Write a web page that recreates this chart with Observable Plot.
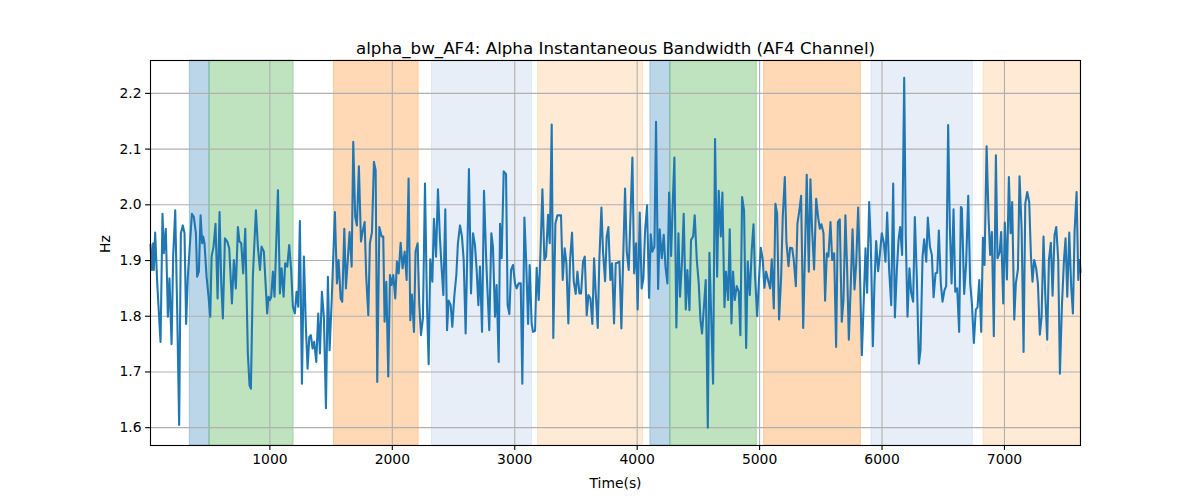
<!DOCTYPE html>
<html>
<head>
<meta charset="utf-8">
<script src="https://cdn.jsdelivr.net/npm/d3@7"></script>
<script src="https://cdn.jsdelivr.net/npm/@observablehq/plot@0.6"></script>
<style>
  html, body { margin: 0; padding: 0; background: #fff; }
  svg { font-family: "DejaVu Sans", sans-serif; }
</style>
</head>
<body>
<div id="chart"></div>
<script>
const times = [25,36,47,52,63,80,107,123,134,150,167,180,197,210,227,243,259,273,289,303,316,330,363,379,396,406,420,434,447,455,466,483,499,513,524,540,556,573,589,603,616,633,652,668,690,706,722,739,752,766,782,799,820,834,845,861,886,902,919,932,951,
978,989,1000,1011,1025,1038,1052,1066,1082,1096,1112,1125,1142,1158,1174,1188,1204,1218,1232,1245,1262,1278,1294,1308,1322,1335,1349,1362,1379,1395,1409,1425,1441,1458,1474,1488,1504,1531,1548,1561,1578,1591,1608,1621,1638,1651,1668,1681,1697,1711,1727,1744,1757,1774,1787,1804,1817,1834,1850,1864,1877,1894,
1913,1926,1937,1951,1967,1981,1994,2008,2024,2038,2052,2068,2084,2101,2117,2133,2147,2160,2177,2190,2207,2220,2234,2250,2267,2283,2297,2310,2327,2340,2357,2373,2389,2403,2417,2433,2447,2460,2477,2490,2506,2523,2536,2553,2569,2583,2599,2613,2626,2643,2659,2675,2689,2703,2716,2733,2749,2765,2776,2792,2809,2822,2839,2852,
2869,2880,2893,2910,2929,2942,2956,2970,2986,3002,3016,3032,3049,3062,3079,3092,3109,3122,3138,3149,3166,3179,3196,3209,3226,3242,3256,3272,3286,3302,3315,3332,3348,3362,3378,3392,3408,3422,3438,3452,3468,3482,3498,3512,3528,3542,3558,3572,3588,3602,3618,3634,3648,3661,3678,3691,3708,3721,3738,3751,3765,3781,3795,
3811,3825,3838,3855,3871,3885,3901,3915,3931,3947,3961,3975,3991,4004,4021,4037,4051,4064,4081,4097,4111,4124,4141,4154,4171,4184,4201,4217,4231,4247,4261,4277,4290,4304,4320,4337,4350,4367,4380,4397,4410,4427,4440,4457,4470,4487,4503,4517,4530,4547,4560,4577,4590,4604,4620,4636,4653,4666,4683,4696,4713,4726,4743,
4756,4770,4783,4797,4813,4830,4843,4857,4873,4890,4903,4920,4936,4950,4963,4980,4996,5010,5026,5039,5053,5069,5086,5099,5116,5129,5143,5159,5176,5189,5206,5219,5236,5249,5266,5279,5296,5309,5326,5339,5356,5372,5385,5402,5415,5429,5445,5462,5478,5492,5505,5522,5535,5549,5562,5579,5593,5609,5625,5639,5655,5671,5685,5701,
5715,5729,5745,5759,5775,5789,5805,5818,5835,5848,5865,5878,5895,5908,5925,5938,5952,5968,5982,5998,6015,6028,6042,6058,6075,6091,6105,6121,6135,6148,6164,6181,6194,6208,6224,6238,6254,6268,6284,6301,6314,6331,6344,6361,6374,6391,6407,6421,6437,6451,6464,6480,6494,6510,6524,6540,6554,6568,6584,6598,6614,6630,6644,
6652,6671,6687,6704,6720,6734,6750,6766,6780,6794,6810,6824,6837,6854,6870,6883,6897,6913,6930,6943,6960,6973,6990,7003,7020,7036,7050,7063,7080,7093,7110,7123,7140,7156,7170,7186,7202,7216,7229,7243,7259,7273,7289,7303,7319,7333,7349,7363,7379,7393,7409,7423,7439,7453,7469,7486,7499,7513,7529,7545,7559,7573,7589,7603,7614,7621];

const values = [1.928,1.883,1.931,1.883,1.950,1.859,1.754,1.984,1.913,1.957,1.799,1.868,1.750,1.907,1.990,1.811,1.605,1.949,1.963,1.949,1.786,1.871,1.984,1.978,1.949,1.871,1.880,1.981,1.931,1.943,1.931,1.871,1.835,1.799,1.907,1.925,1.966,1.832,1.987,1.859,1.796,1.940,1.934,1.922,1.823,1.901,1.850,1.960,1.934,1.931,1.877,1.957,1.733,1.676,1.670,1.871,1.990,1.925,1.883,1.925,1.916,
1.805,1.835,1.829,1.835,1.880,1.835,1.931,2.026,1.841,1.886,1.835,1.895,1.889,1.928,1.883,1.817,1.805,1.844,1.817,1.971,1.679,1.907,1.781,1.706,1.763,1.766,1.742,1.754,1.718,1.805,1.733,1.844,1.799,1.635,1.871,1.739,1.823,1.987,1.859,1.901,1.832,1.826,1.957,1.850,1.907,1.951,1.889,2.113,1.978,1.963,2.069,1.934,1.951,1.969,1.871,1.802,1.931,1.951,2.077,2.062,1.682,1.960,
1.943,1.943,1.790,1.862,1.692,1.874,1.856,1.874,1.832,1.898,1.877,1.932,1.886,1.916,1.865,2.047,1.793,1.839,1.772,1.916,1.931,1.823,1.766,1.796,2.038,1.823,1.714,1.902,1.862,1.975,1.907,2.028,1.940,1.886,1.838,1.992,1.775,1.828,1.820,1.781,1.835,1.874,1.931,1.963,1.943,1.901,1.769,1.919,2.064,1.841,1.949,1.928,1.883,1.820,1.889,1.772,2.025,1.913,1.853,1.775,1.949,1.925,1.799,1.856,
1.718,1.966,1.904,2.060,2.055,1.820,1.804,1.883,1.892,1.859,1.850,1.859,1.859,1.679,1.977,1.907,1.786,1.892,1.787,1.772,1.774,1.887,1.829,1.907,2.028,1.901,1.907,1.982,1.931,2.144,1.761,1.966,1.981,1.981,1.981,1.865,1.922,1.895,1.787,1.901,1.950,1.862,1.840,1.880,1.841,1.841,1.898,1.907,1.802,1.838,1.832,1.786,1.904,1.844,1.779,1.901,1.995,1.916,1.863,1.943,1.960,1.865,1.895,
1.787,1.895,1.896,1.898,1.778,1.898,2.029,1.916,1.883,1.990,2.085,1.877,1.931,1.812,1.986,1.850,1.868,1.951,1.999,1.833,1.947,1.916,1.925,2.149,1.849,1.956,1.904,1.946,1.889,1.859,2.022,1.908,1.999,2.085,1.780,1.949,1.835,1.901,1.984,1.812,1.883,1.811,1.937,1.943,1.981,1.901,1.859,1.793,1.769,1.823,1.865,1.600,1.914,1.805,1.679,2.118,1.871,2.025,1.943,2.022,1.816,1.880,1.829,
1.956,1.787,1.880,1.829,1.854,1.844,1.766,2.014,1.990,1.743,1.898,1.838,1.919,1.965,1.871,1.800,1.871,1.923,1.901,1.851,1.880,1.865,1.850,1.902,1.814,2.002,1.984,1.794,1.871,1.978,2.050,1.934,1.890,1.923,1.922,1.901,1.854,1.966,1.992,2.016,1.779,1.925,2.054,1.880,2.046,1.954,1.884,2.011,1.978,1.957,1.965,1.949,1.828,1.913,1.907,1.969,1.901,1.913,1.745,1.969,1.974,1.790,1.829,1.981,
1.883,1.758,1.859,1.956,1.848,1.895,1.995,1.895,1.730,1.811,1.922,1.842,2.005,1.931,1.746,1.859,1.935,1.881,1.910,1.949,1.931,1.898,1.986,1.883,1.820,2.038,1.798,1.883,1.937,1.960,1.910,2.228,1.943,1.799,1.886,1.842,1.826,1.978,1.871,1.715,1.739,1.907,1.938,1.898,1.977,1.925,1.910,1.834,1.877,1.878,1.954,1.859,1.826,1.847,1.854,2.143,1.960,1.859,1.992,1.844,1.850,1.772,1.996,
1.994,1.840,1.895,2.016,1.859,1.823,1.752,1.812,1.816,1.865,1.772,1.941,1.892,2.105,1.978,1.910,1.951,1.764,2.089,1.904,1.914,1.951,1.823,1.968,1.866,2.050,1.949,2.005,1.794,1.859,1.884,2.051,1.957,1.736,2.002,2.023,2.005,1.910,1.862,1.901,1.886,1.859,1.767,1.799,1.943,1.840,1.758,1.901,1.932,1.837,1.946,1.960,1.901,1.697,1.817,1.901,1.940,1.835,1.950,1.853,1.805,1.954,2.023,1.865,1.901,1.880];

// Shaded segments
const spanStart = [346, 507, 1523, 2324, 3190, 4108, 4271, 5037, 5914, 6829];
const spanEnd   = [507, 1194, 2215, 3141, 4048, 4271, 4977, 5827, 6742, 7621];
const spanKind  = ["blue", "green", "orange", "lightblue", "lightorange", "blue", "green", "orange", "lightblue", "lightorange"];

const xTicks = [1000, 2000, 3000, 4000, 5000, 6000, 7000];
const yTicks = [1.6, 1.7, 1.8, 1.9, 2.0, 2.1, 2.2];

const kindColors = {blue: "#1f77b4", green: "#2ca02c", orange: "#ff7f0e", lightblue: "#aec7e8", lightorange: "#ffbb78"};

const series = times.map((t, i) => ({t, v: values[i]}));
const spans = spanStart.map((s, i) => ({x1: s, x2: spanEnd[i], kind: spanKind[i]}));

const chart = Plot.plot({
  width: 1200,
  height: 500,
  marginLeft: 150,
  marginRight: 120,
  marginTop: 60,
  marginBottom: 55,
  style: {fontFamily: "DejaVu Sans, sans-serif", fontSize: "13.9px", background: "white"},
  x: {domain: [25, 7621]},
  y: {domain: [1.568, 2.259]},
  marks: [
    Plot.rect(spans, {x1: "x1", x2: "x2", fill: d => kindColors[d.kind], fillOpacity: 0.3, stroke: d => kindColors[d.kind], strokeOpacity: 0.3, strokeWidth: 1}),
    Plot.gridX(xTicks, {stroke: "#b0b0b0", strokeOpacity: 1, strokeWidth: 1.1}),
    Plot.gridY(yTicks, {stroke: "#b0b0b0", strokeOpacity: 1, strokeWidth: 1.1}),
    Plot.line(series, {x: "t", y: "v", stroke: "#1f77b4", strokeWidth: 2.08, strokeLinejoin: "round", strokeLinecap: "square"}),
    Plot.frame({stroke: "black", strokeWidth: 1.1}),
    Plot.axisX({ticks: xTicks, tickFormat: d3.format("d"), tickSize: 4.9, tickPadding: 4, label: null, fontSize: 13.9, strokeWidth: 1.1}),
    Plot.axisY({ticks: yTicks, tickFormat: d3.format(".1f"), tickSize: 4.9, tickPadding: 4, label: null, fontSize: 13.9, strokeWidth: 1.1}),
    Plot.text(["alpha_bw_AF4: Alpha Instantaneous Bandwidth (AF4 Channel)"], {frameAnchor: "top", lineAnchor: "bottom", dy: -7, fontSize: 16.7, fill: "black"}),
    Plot.text(["Time(s)"], {frameAnchor: "bottom", lineAnchor: "bottom", dy: 42, fontSize: 13.9, fill: "black"}),
    Plot.text(["Hz"], {frameAnchor: "left", rotate: -90, dx: -45, fontSize: 13.9, fill: "black"})
  ]
});
document.getElementById("chart").appendChild(chart);
</script>
</body>
</html>
